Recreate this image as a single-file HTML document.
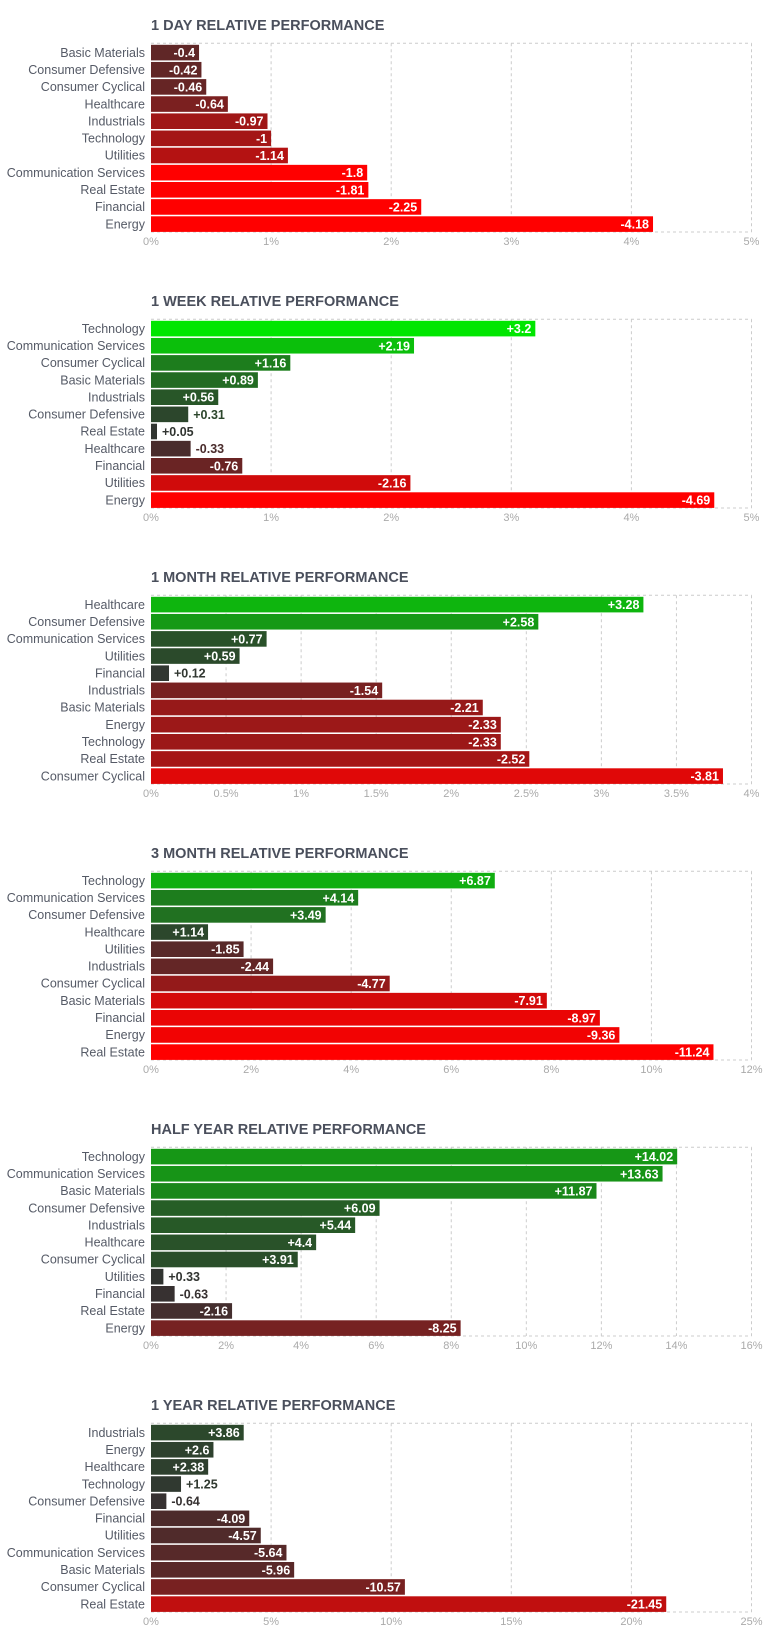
<!DOCTYPE html>
<html><head><meta charset="utf-8">
<style>
html,body{margin:0;padding:0;background:#fff;}
body{width:781px;height:1645px;overflow:hidden;font-family:"Liberation Sans",sans-serif;}
svg{display:block;}
</style></head>
<body>
<svg id="chart" width="781" height="1645" xmlns="http://www.w3.org/2000/svg"></svg>
<script>
const titles = ["1 DAY RELATIVE PERFORMANCE","1 WEEK RELATIVE PERFORMANCE","1 MONTH RELATIVE PERFORMANCE","3 MONTH RELATIVE PERFORMANCE","HALF YEAR RELATIVE PERFORMANCE","1 YEAR RELATIVE PERFORMANCE"];
const cats1 = ["Basic Materials","Consumer Defensive","Consumer Cyclical","Healthcare","Industrials","Technology","Utilities","Communication Services","Real Estate","Financial","Energy"];
const vals1 = [-0.4,-0.42,-0.46,-0.64,-0.97,-1,-1.14,-1.8,-1.81,-2.25,-4.18];
const cats2 = ["Technology","Communication Services","Consumer Cyclical","Basic Materials","Industrials","Consumer Defensive","Real Estate","Healthcare","Financial","Utilities","Energy"];
const vals2 = [3.2,2.19,1.16,0.89,0.56,0.31,0.05,-0.33,-0.76,-2.16,-4.69];
const cats3 = ["Healthcare","Consumer Defensive","Communication Services","Utilities","Financial","Industrials","Basic Materials","Energy","Technology","Real Estate","Consumer Cyclical"];
const vals3 = [3.28,2.58,0.77,0.59,0.12,-1.54,-2.21,-2.33,-2.33,-2.52,-3.81];
const cats4 = ["Technology","Communication Services","Consumer Defensive","Healthcare","Utilities","Industrials","Consumer Cyclical","Basic Materials","Financial","Energy","Real Estate"];
const vals4 = [6.87,4.14,3.49,1.14,-1.85,-2.44,-4.77,-7.91,-8.97,-9.36,-11.24];
const cats5 = ["Technology","Communication Services","Basic Materials","Consumer Defensive","Industrials","Healthcare","Consumer Cyclical","Utilities","Financial","Real Estate","Energy"];
const vals5 = [14.02,13.63,11.87,6.09,5.44,4.4,3.91,0.33,-0.63,-2.16,-8.25];
const cats6 = ["Industrials","Energy","Healthcare","Technology","Consumer Defensive","Financial","Utilities","Communication Services","Basic Materials","Consumer Cyclical","Real Estate"];
const vals6 = [3.86,2.6,2.38,1.25,-0.64,-4.09,-4.57,-5.64,-5.96,-10.57,-21.45];
const ticks1 = [0,1,2,3,4,5];
const ticks2 = [0,1,2,3,4,5];
const ticks3 = [0,0.5,1,1.5,2,2.5,3,3.5,4];
const ticks4 = [0,2,4,6,8,10,12];
const ticks5 = [0,2,4,6,8,10,12,14,16];
const ticks6 = [0,5,10,15,20,25];
const colorScale = [1.8,2.8,4.5,10,25,31];

const allCats=[cats1,cats2,cats3,cats4,cats5,cats6];
const allVals=[vals1,vals2,vals3,vals4,vals5,vals6];
const allTicks=[ticks1,ticks2,ticks3,ticks4,ticks5,ticks6];
const NS="http://www.w3.org/2000/svg";
const svg=document.getElementById('chart');
const X0=151, X1=751.5, Y0=43.3, BAND=17.15, STEP=276;
function mk(tag,attrs,parent){const e=document.createElementNS(NS,tag);for(const k in attrs)e.setAttribute(k,attrs[k]);(parent||svg).appendChild(e);return e;}
function col(v,T){const t=Math.min(1,Math.abs(v)/T);const b=50;
 if(v>=0) return `rgb(${Math.round(b*(1-t))},${Math.round(b+(230-b)*t)},${Math.round(b*(1-t))})`;
 return `rgb(${Math.round(b+(255-b)*t)},${Math.round(b*(1-t))},${Math.round(b*(1-t))})`;}
for(let c=0;c<6;c++){
 const oy=c*STEP, cats=allCats[c], vals=allVals[c], ticks=allTicks[c];
 const max=ticks[ticks.length-1];
 const xs=v=>X0+Math.abs(v)/max*(X1-X0);
 const top=Y0+oy, bot=top+BAND*11;
 const g=mk('g',{});
 
 
 const t=mk('text',{x:X0,y:30+oy,'font-size':14.5,'font-weight':'bold',fill:'#4a4f5c'},g);t.textContent=titles[c];
 
 
 ticks.forEach((tk,i)=>{const x=xs(tk);
  if(i>0){const l=mk('line',{x1:x,x2:x,y1:top,y2:bot,stroke:'#ccc','stroke-dasharray':'3,3'},g);
   
   }
  const tl=mk('text',{x:x,y:bot+13,'font-size':11,fill:'#aaa','text-anchor':'middle'},g);tl.textContent=tk+'%';
  
  });
 mk('line',{x1:X0,x2:X1,y1:top,y2:top,stroke:'#ccc','stroke-dasharray':'3,3'},g);
 mk('line',{x1:X0,x2:X1,y1:bot,y2:bot,stroke:'#ccc','stroke-dasharray':'3,3'},g);
 cats.forEach((cat,i)=>{const v=vals[i];const y=top+i*BAND+1.5;const w=xs(v)-X0;const cl=col(v,colorScale[c]);
  const lab=mk('text',{x:145,y:y+12,'font-size':12.5,fill:'#555a66','text-anchor':'end'},g);lab.textContent=cat;
  
  
  const r=mk('rect',{x:X0,y:y,width:w,height:15.6,fill:cl},g);
  
  
  const txt=(v>0?'+':'')+v;const inside=w>42;
  const vt=mk('text',{x:inside?X0+w-4:X0+w+5,y:y+12.3,'font-size':12.5,'font-weight':'bold',fill:inside?'#fff':cl,'text-anchor':inside?'end':'start'},g);vt.textContent=txt;
  
  });
}
</script>
</body></html>
